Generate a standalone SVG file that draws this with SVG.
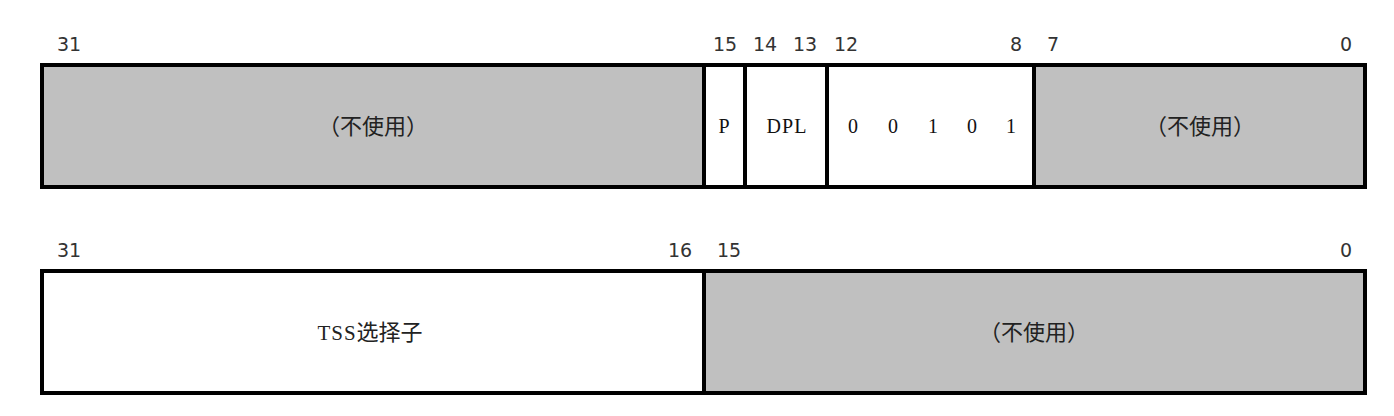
<svg xmlns="http://www.w3.org/2000/svg" width="1394" height="416" viewBox="0 0 1394 416">
<style>
.box{stroke:#000;stroke-width:4}
.g{fill:#c0c0c0}
.w{fill:#fff}
.num{font-family:"DejaVu Sans","Noto Sans",sans-serif;font-size:19px;fill:#333;text-anchor:middle}
.mono{font-family:"Liberation Serif","Noto Sans CJK SC",serif;font-size:20px;fill:#111;text-anchor:middle}
.cjk{font-family:"Noto Sans CJK SC",sans-serif;font-size:22px;fill:#222;text-anchor:middle}
</style>
<rect width="1394" height="416" fill="#fff"/>
<g id="row1-labels">
<text class="num" x="69" y="51">31</text>
<text class="num" x="725" y="51">15</text>
<text class="num" x="765" y="51">14</text>
<text class="num" x="805" y="51">13</text>
<text class="num" x="846" y="51">12</text>
<text class="num" x="1016" y="51">8</text>
<text class="num" x="1053" y="51">7</text>
<text class="num" x="1346" y="51">0</text>
</g>
<g id="f-unused-hi"><rect class="box g" x="42" y="65" width="662" height="122"/><text class="cjk" x="373" y="134">（不使用）</text></g>
<g id="f-p"><rect class="box w" x="704" y="65" width="41" height="122"/><text class="mono" x="724" y="133">P</text></g>
<g id="f-dpl"><rect class="box w" x="745" y="65" width="82" height="122"/><text class="mono" x="787" y="133" letter-spacing="1">DPL</text></g>
<g id="f-type"><rect class="box w" x="827" y="65" width="207" height="122"/>
<text class="mono" x="853" y="133">0</text><text class="mono" x="893" y="133">0</text><text class="mono" x="933" y="133">1</text><text class="mono" x="972" y="133">0</text><text class="mono" x="1011" y="133">1</text></g>
<g id="f-unused-lo"><rect class="box g" x="1034" y="65" width="331" height="122"/><text class="cjk" x="1200" y="134">（不使用）</text></g>
<g id="row2-labels">
<text class="num" x="69" y="257">31</text>
<text class="num" x="680" y="257">16</text>
<text class="num" x="729" y="257">15</text>
<text class="num" x="1346" y="257">0</text>
</g>
<g id="f-tss"><rect class="box w" x="42" y="271" width="662" height="122"/><text class="cjk" x="370" y="340"><tspan font-family="'Liberation Serif',serif" font-size="21" letter-spacing="1">TSS</tspan>选择子</text></g>
<g id="f-unused2"><rect class="box g" x="704" y="271" width="661" height="122"/><text class="cjk" x="1034" y="340">（不使用）</text></g>
<g id="connectors"></g>
</svg>
